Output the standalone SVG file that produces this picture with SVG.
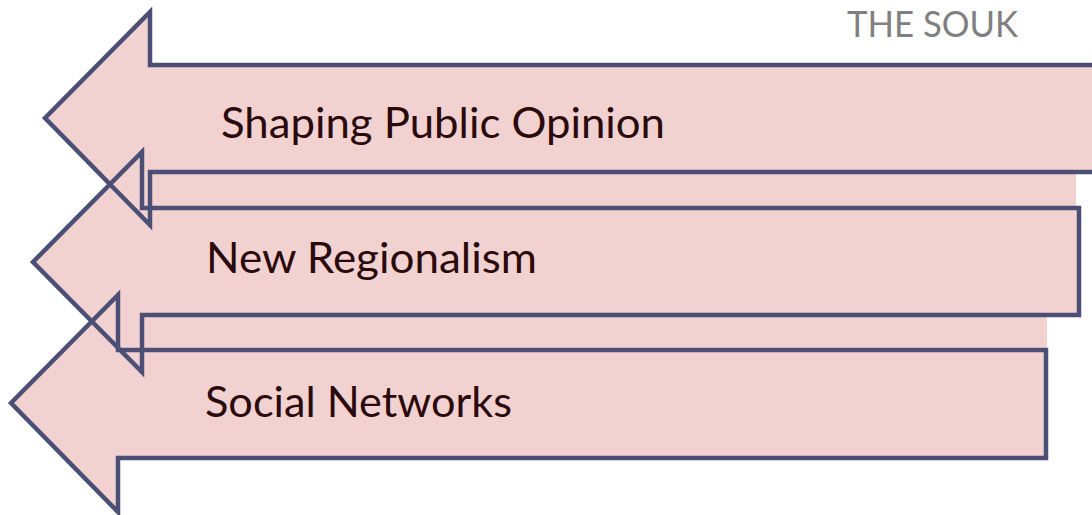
<svg xmlns="http://www.w3.org/2000/svg" xmlns:xlink="http://www.w3.org/1999/xlink" width="1092" height="515" viewBox="0 0 1092 515">
  <style>
    .fill { fill: #f2d2d1; stroke: none; }
    .outline { fill: none; stroke: #4b4f76; stroke-width: 4.5; stroke-linejoin: miter; }
    .label { font-family: Lato, "Open Sans", "Liberation Sans", sans-serif; font-size: 43px; fill: #2a0a0a; }
    .title { font-family: Lato, "Open Sans", "Liberation Sans", sans-serif; font-size: 37px; fill: #808080; }
  </style>
  <defs>
    <path id="arrow1" d="M45,118 L150,12 L150,65 L1100,65 L1100,172 L150,172 L150,225 Z"/>
    <path id="arrow2" d="M33,262 L142,152 L142,208 L1079,208 L1079,315 L142,315 L142,372 Z"/>
    <path id="arrow3" d="M11,403 L118,295 L118,350 L1046,350 L1046,458 L118,458 L118,512 Z"/>
  </defs>
  <rect width="1092" height="515" fill="#ffffff"/>
  <g id="fills">
    <rect class="fill" x="140" y="168" width="936" height="44"/>
    <rect class="fill" x="116" y="311" width="931" height="43"/>
    <use xlink:href="#arrow1" class="fill"/>
    <use xlink:href="#arrow2" class="fill"/>
    <use xlink:href="#arrow3" class="fill"/>
  </g>
  <g id="node-shaping-public-opinion">
    <use xlink:href="#arrow1" class="outline"/>
    <text class="label" x="221" y="138" textLength="444" lengthAdjust="spacingAndGlyphs">Shaping Public Opinion</text>
  </g>
  <g id="node-new-regionalism">
    <use xlink:href="#arrow2" class="outline"/>
    <text class="label" x="206" y="273" textLength="331" lengthAdjust="spacingAndGlyphs">New Regionalism</text>
  </g>
  <g id="node-social-networks">
    <use xlink:href="#arrow3" class="outline"/>
    <text class="label" x="205" y="417" textLength="307" lengthAdjust="spacingAndGlyphs">Social Networks</text>
  </g>
  <g id="connectors"></g>
  <text class="title" x="847" y="37" textLength="171" lengthAdjust="spacingAndGlyphs">THE SOUK</text>
</svg>
